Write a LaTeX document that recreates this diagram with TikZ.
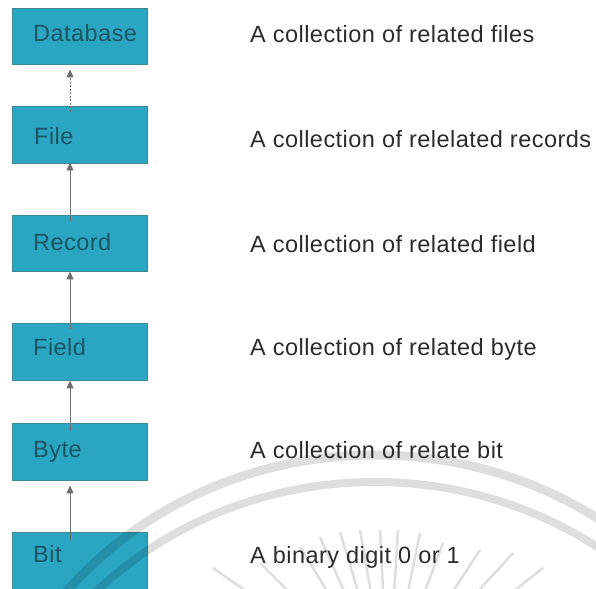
\documentclass[tikz,border=0pt]{standalone}
\usepackage{fontspec}
\setmainfont{Liberation Sans}[LetterSpace=2]
\usetikzlibrary{arrows.meta,calc}
\definecolor{boxfill}{HTML}{2AA5C2}
\definecolor{boxline}{HTML}{3D8796}
\definecolor{boxtext}{HTML}{1C5563}
\definecolor{desctext}{HTML}{2B2B2B}
\definecolor{arrowgray}{HTML}{6E6E6E}
\tikzset{
  levelbox/.style={draw=boxline, line width=0.9pt, fill=boxfill,
    minimum width=135pt, minimum height=56pt, inner sep=0pt},
  boxlabel/.style={anchor=base west, inner sep=0pt, text=boxtext,
    font=\fontsize{23.5}{28}\selectfont},
  desc/.style={anchor=base west, inner sep=0pt, text=desctext,
    font=\fontsize{23.5}{28}\selectfont},
  uparrow/.style={draw=arrowgray, line width=1pt,
    -{Triangle[length=8pt,width=7pt]}},
  wmark/.style={draw=black, opacity=0.13},
}
\begin{document}
\begin{tikzpicture}[x=1pt,y=-1pt]
\useasboundingbox (0,0) rectangle (596,588);

% hierarchy boxes
\node[levelbox] (db)   at (79.5,36)  {};
\node[levelbox, minimum height=57pt] (file) at (79.5,134.5) {};
\node[levelbox] (rec)  at (79.5,243)  {};
\node[levelbox, minimum height=57pt] (fld)  at (79.5,351.5) {};
\node[levelbox, minimum height=57pt] (byt)  at (79.5,451.5) {};
\node[levelbox, minimum height=57pt] (bit)  at (79.5,560.5) {};

% box captions
\node[boxlabel] (dbt)   at (33,42)  {Database};
\node[boxlabel] (filet) at (34,145) {File};
\node[boxlabel] (rect)  at (33,250) {Record};
\node[boxlabel] (fldt)  at (33,355) {Field};
\node[boxlabel] (bytt)  at (33,457) {Byte};
\node[boxlabel] (bitt)  at (33,562) {Bit};

% connectors, each pointing up to the next level
\draw[uparrow, dash pattern=on 2pt off 1.5pt]
  ([xshift=-9.5pt,yshift=-6pt]file.north) -- ([xshift=-9.5pt,yshift=-5pt]db.south);
\draw[uparrow] ([xshift=-9.5pt,yshift=-6pt]rec.north) -- ([xshift=-9.5pt,yshift=1pt]file.south);
\draw[uparrow] ([xshift=-9.5pt,yshift=-6pt]fld.north) -- ([xshift=-9.5pt]rec.south);
\draw[uparrow] ([xshift=-9.5pt,yshift=-8pt]byt.north) -- ([xshift=-9.5pt]fld.south);
\draw[uparrow] ([xshift=-9.5pt,yshift=-8pt]bit.north) -- ([xshift=-9.5pt,yshift=-5pt]byt.south);

% faint emblem in the lower part of the page
\begin{scope}
  \clip (0,0) rectangle (596,588);
  \draw[wmark, line width=9pt] (375,830) ellipse [x radius=400pt, y radius=375pt];
  \draw[wmark, line width=8pt] (375,857) ellipse [x radius=395pt, y radius=375pt];
  \coordinate (sun) at (388,690);
  \foreach \tx/\ty in {213/568, 260/563, 300/547, 320/537, 340/532, 360/530,
                       380/530, 398/530, 420/533, 443/543, 480/550, 513/553, 543/568}
    \draw[wmark, line width=2.5pt] (\tx,\ty) -- ($(\tx,\ty)!0.75!(sun)$);
\end{scope}

% descriptions
\node[desc] (d1) at (250,43)  {A collection of related files};
\node[desc] (d2) at (250,147) {A collection of relelated records};
\node[desc] (d3) at (250,252) {A collection of related field};
\node[desc] (d4) at (250,355) {A collection of related byte};
\node[desc] (d5) at (250,458) {A collection of relate bit};
\node[desc] (d6) at (250,563) {A binary digit 0 or 1};
\end{tikzpicture}
\end{document}
